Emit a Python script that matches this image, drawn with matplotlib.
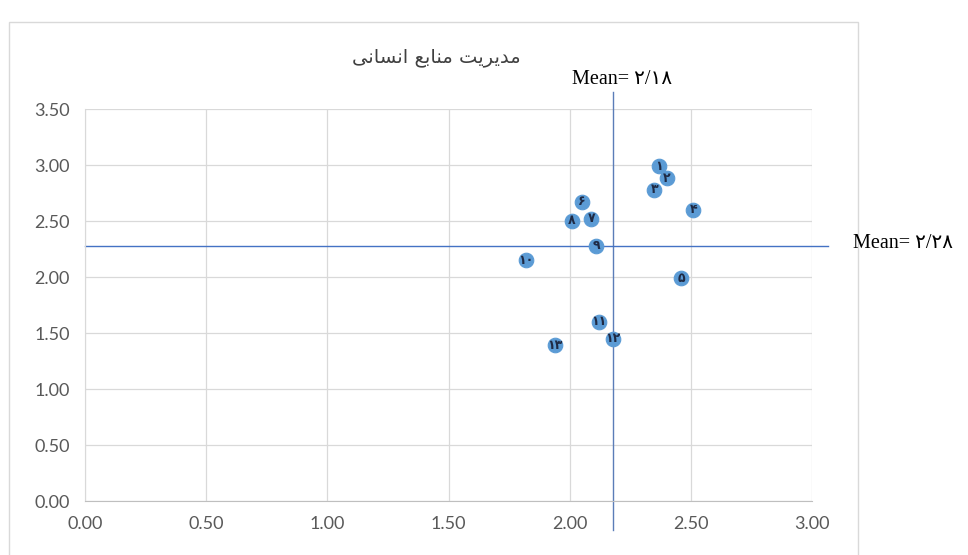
import matplotlib
matplotlib.use("Agg")
import matplotlib.pyplot as plt
from matplotlib.patches import Rectangle

# Data: one point per item, labelled with Persian numerals
point_labels = ["۱", "۲", "۳", "۴", "۵", "۶", "۷", "۸", "۹", "۱۰", "۱۱", "۱۲", "۱۳"]
x_values = [2.37, 2.40, 2.35, 2.51, 2.46, 2.05, 2.09, 2.01, 2.11, 1.82, 2.12, 2.18, 1.94]
y_values = [2.99, 2.88, 2.78, 2.60, 1.99, 2.67, 2.52, 2.50, 2.28, 2.15, 1.60, 1.45, 1.39]

mean_x = 2.18
mean_y = 2.28
mean_x_label = "Mean= ۲/۱۸"
mean_y_label = "Mean= ۲/۲۸"

x_ticks = [0.0, 0.5, 1.0, 1.5, 2.0, 2.5, 3.0]
y_ticks = [0.0, 0.5, 1.0, 1.5, 2.0, 2.5, 3.0, 3.5]

# Title "مدیریت منابع انسانی" written in shaped presentation forms, visual order
title_text = ("\uFBFD\uFEE7\uFE8E\uFEB4\uFEE7\uFE8D" + " " +
              "\uFECA\uFE91\uFE8E\uFEE8\uFEE3" + " " +
              "\uFE96\uFBFE\uFEAE\uFBFE\uFEAA\uFEE3")

W, H = 968, 555
fig = plt.figure(figsize=(W / 100, H / 100), dpi=100)
fig.patch.set_facecolor("white")

# Chart-area frame
fig.patches.append(Rectangle((9 / W, -0.05), (858 - 9) / W, 1 - 22 / H + 0.05,
                             transform=fig.transFigure, fill=False,
                             edgecolor="#D9D9D9", linewidth=1.0))

ax = fig.add_axes([85 / W, 1 - 501 / H, (812 - 85) / W, (501 - 109) / H])
ax.set_xlim(0, 3)
ax.set_ylim(0, 3.5)
ax.set_xticks(x_ticks)
ax.set_yticks(y_ticks)
ax.set_xticklabels([f"{v:.2f}" for v in x_ticks])
ax.set_yticklabels([f"{v:.2f}" for v in y_ticks])
ax.grid(True, color="#D9D9D9", linewidth=0.9)
ax.set_axisbelow(True)
for side in ("top", "right"):
    ax.spines[side].set_visible(False)
ax.spines["left"].set_color("#D9D9D9")
ax.spines["bottom"].set_color("#BFBFBF")
ax.tick_params(length=0, colors="#595959", labelsize=13, pad=11)
for lab in ax.get_xticklabels() + ax.get_yticklabels():
    lab.set_fontfamily("Lato")

# Mean reference lines (extend beyond the plotting area)
ax.plot([mean_x, mean_x], [-0.26, 3.65], color="#5B7DB8", linewidth=1.0,
        clip_on=False, zorder=2)
ax.plot([0, 3.066], [mean_y, mean_y], color="#4472C4", linewidth=1.0,
        clip_on=False, zorder=2)

ax.scatter(x_values, y_values, s=110, color="#5B9BD5", edgecolors="#5B9BD5",
           linewidths=0.8, zorder=3)
for lx, ly, lt in zip(x_values, y_values, point_labels):
    ax.text(lx, ly, lt, ha="center", va="center", fontsize=9,
            fontweight="bold", color="#1F2A44", family="DejaVu Sans", zorder=4)

fig.text(436 / W, 1 - 57 / H, title_text, ha="center", va="center",
         fontsize=14, color="#404040", family="DejaVu Sans")

fig.text(572 / W, 1 - 80 / H, mean_x_label, ha="left", va="center",
         fontsize=14.5, color="black", family=["Liberation Serif", "DejaVu Sans"])
fig.text(853 / W, 1 - 243 / H, mean_y_label, ha="left", va="center",
         fontsize=14.5, color="black", family=["Liberation Serif", "DejaVu Sans"])

fig.savefig("out.png", dpi=100)
